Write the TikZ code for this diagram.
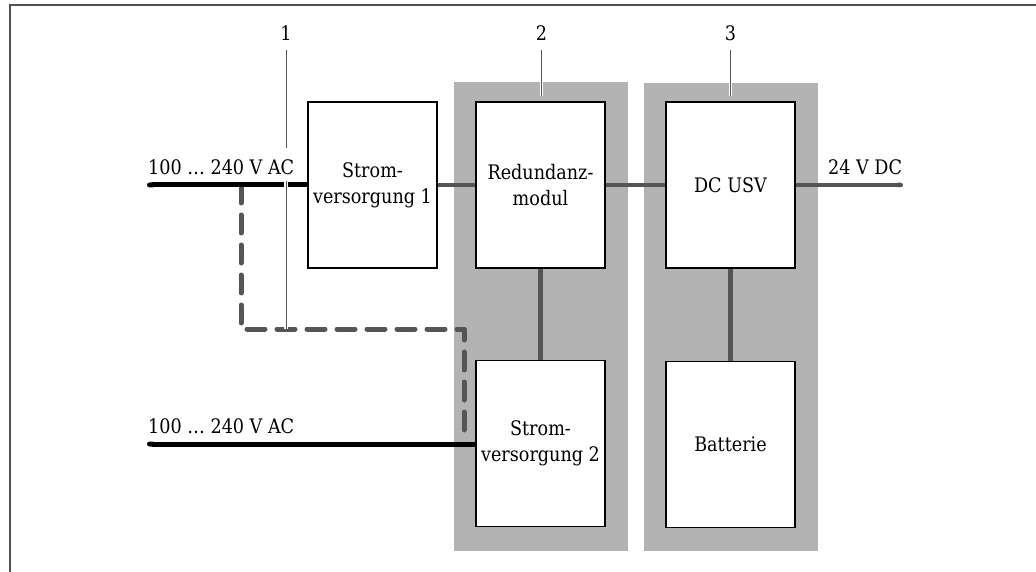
\documentclass[tikz,border=0pt]{standalone}
\usepackage{fontspec}
\setmainfont{DejaVu Serif}[FakeStretch=0.88]
\usetikzlibrary{arrows.meta}
\definecolor{panelgrey}{HTML}{B3B3B3}
\definecolor{linkgrey}{HTML}{555555}
\definecolor{framegrey}{HTML}{505050}
\newcommand{\txt}{\fontsize{20}{26}\selectfont}
\begin{document}
\begin{tikzpicture}[x=1pt,y=-1pt,
  blk/.style={draw=black, line width=1.3pt, fill=white, minimum width=129pt,
    minimum height=166pt, align=center, inner sep=0pt, font=\txt},
  feed/.style={line width=5pt, black},
  link/.style={line width=4.5pt, linkgrey},
  dashlink/.style={line width=5pt, linkgrey, dash pattern=on 18pt off 12pt,
    line cap=round, line join=round},
  leader/.style={line width=1pt, linkgrey, preaction={draw=white, line width=3.5pt}},
  lbl/.style={font=\txt, inner sep=0pt}
]
\useasboundingbox (0,0) rectangle (1036,572);
\fill[white] (0,0) rectangle (1036,572);
% frame (top and left)
\draw[line width=2pt, framegrey] (10,572) -- (10,5.5) -- (1036,5.5);
% grey panels
\fill[panelgrey] (454,82) rectangle (628,551);
\fill[panelgrey] (644,83) rectangle (818,551);
% blocks
\node[blk] (sv1) at (372.5,185) {Strom-\\versorgung 1};
\node[blk] (red) at (540.5,185) {Redundanz-\\modul};
\node[blk] (usv) at (730.5,185) {DC USV};
\node[blk] (sv2) at (540.5,443.5) {Strom-\\versorgung 2};
\node[blk] (bat) at (730.5,444.5) {Batterie};
% coordinates
\coordinate (in1) at (147,185);
\coordinate (in2) at (147,444);
\coordinate (out) at (903,185);
\coordinate (d0) at (241,185);
\coordinate (d1) at (241,329);
\coordinate (d2) at (464,329);
\coordinate (d3) at (464,436);
% dashed alternative feed
\draw[dashlink] (d0) -- (d1) -- (d2) -- (d3);
% mains feeds
\draw[feed, {Round Cap[]}-] (in1) -- (sv1.west);
\draw[feed, {Round Cap[]}-] (in2) -- (in2 -| sv2.west);
% DC links
\draw[link] (sv1.east) -- (red.west);
\draw[link] (red.east) -- (usv.west);
\draw[link, -{Round Cap[]}] (usv.east) -- (out);
\draw[link] (red.south) -- (sv2.north);
\draw[link] (usv.south) -- (bat.north);
% texts
\node[lbl, anchor=base west] (t1) at (148,175) {100 … 240 V AC};
\node[lbl, anchor=base west] (t2) at (148,433) {100 … 240 V AC};
\node[lbl, anchor=base west] (t3) at (828,175) {24 V DC};
% callouts
\node[lbl, anchor=base] (c1) at (286,41) {1};
\node[lbl, anchor=base] (c2) at (541.5,41) {2};
\node[lbl, anchor=base] (c3) at (730.5,41) {3};
\coordinate (a1) at (286,50);
\coordinate (b1) at (286,148);
\coordinate (f1) at (286,181);
\coordinate (e1) at (286,329);
\coordinate (a2) at (541.5,50);
\coordinate (e2) at (541.5,96);
\coordinate (a3) at (730.5,50);
\coordinate (e3) at (730.5,96);
\draw[leader] (a1) -- (b1);
\draw[leader] (f1) -- (e1);
\draw[leader] (a2) -- (e2);
\draw[leader] (a3) -- (e3);
\end{tikzpicture}
\end{document}
